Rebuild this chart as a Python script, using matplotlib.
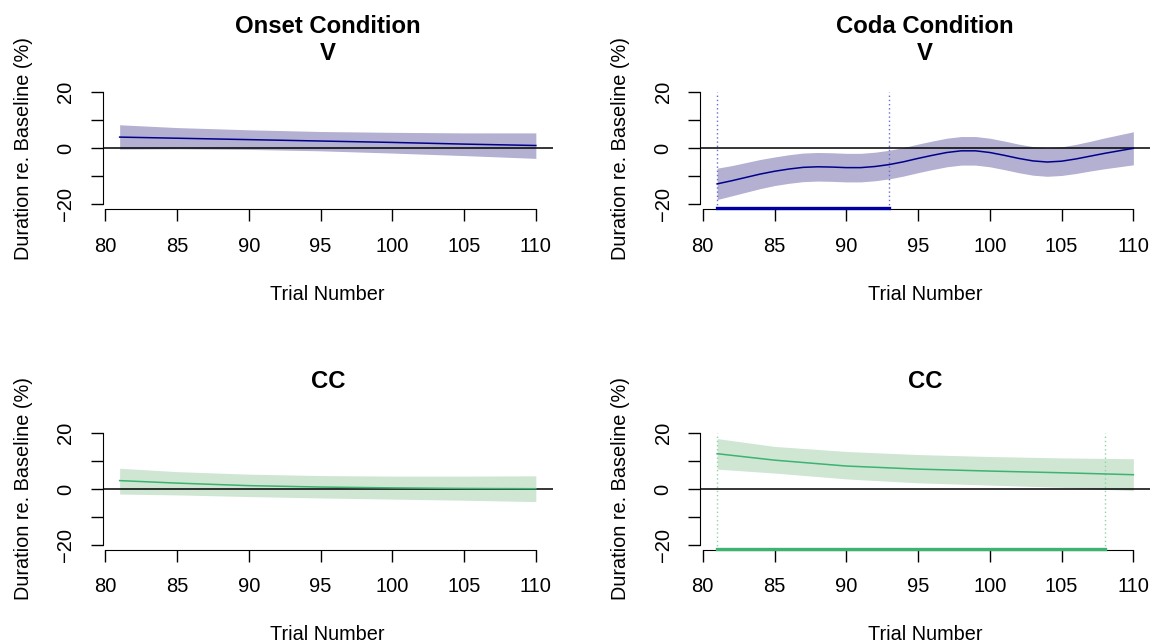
import matplotlib
matplotlib.use("Agg")
import matplotlib.pyplot as plt

plt.rcParams["font.family"] = ["Liberation Sans", "DejaVu Sans"]

trials = [81, 85, 90, 95, 100, 105, 110]
trials_full = list(range(81, 111))

# Onset condition, V
onset_v_fit = [4.0, 3.6, 3.1, 2.6, 2.1, 1.5, 1.0]
onset_v_hi = [8.4, 7.4, 6.6, 6.0, 5.7, 5.5, 5.5]
onset_v_lo = [-0.3, -0.2, -0.4, -0.9, -1.7, -2.6, -3.6]

# Onset condition, CC
onset_cc_fit = [3.0, 2.1, 1.2, 0.7, 0.4, 0.2, 0.1]
onset_cc_hi = [7.4, 6.2, 5.3, 4.8, 4.6, 4.6, 4.7]
onset_cc_lo = [-1.8, -2.1, -2.7, -3.2, -3.6, -4.0, -4.5]

# Coda condition, V (every trial)
coda_v_fit = [-12.7, -11.6, -10.4, -9.2, -8.2, -7.4, -6.8, -6.6, -6.7, -6.9,
              -6.9, -6.5, -5.8, -4.8, -3.6, -2.5, -1.5, -0.9, -0.9, -1.5,
              -2.5, -3.6, -4.5, -4.9, -4.6, -3.8, -2.8, -1.8, -0.9, 0.0]
coda_v_hw = [5.6, 5.4, 5.3, 5.2, 5.1, 5.1, 5.1, 5.1, 5.1, 5.1,
             5.1, 5.1, 5.1, 5.1, 5.1, 5.1, 5.1, 5.1, 5.1, 5.1,
             5.1, 5.1, 5.1, 5.1, 5.1, 5.2, 5.3, 5.5, 5.7, 5.9]

# Coda condition, CC
coda_cc_fit = [12.6, 10.3, 8.2, 7.1, 6.4, 5.8, 5.1]
coda_cc_hi = [18.0, 15.2, 13.4, 12.3, 11.6, 11.1, 10.8]
coda_cc_lo = [7.1, 5.7, 3.6, 2.2, 1.4, 0.6, -0.6]

# significant stretches (start, end)
coda_v_sig = (81, 93)
coda_cc_sig = (81, 108)

V_LINE, V_BAND, V_DOT = "#00008B", "#B3B0D1", "#6B6BD0"
CC_LINE, CC_BAND, CC_DOT = "#3CB371", "#CFE6D3", "#8FD3A8"

XLIM = (79.84, 111.16)
YLIM = (-21.6, 21.6)

fig = plt.figure(figsize=(11.5, 6.4), dpi=100)
W, H = 1150, 640


def make_axes(x0, y_top):
    return fig.add_axes([x0 / W, 1 - (y_top + 121) / H, 449.5 / W, 121 / H])


def style(ax):
    ax.set_xlim(*XLIM)
    ax.set_ylim(*YLIM)
    for s in ["top", "right"]:
        ax.spines[s].set_visible(False)
    ax.spines["left"].set_bounds(-20, 20)
    ax.spines["bottom"].set_bounds(80, 110)
    ax.set_xticks([80, 85, 90, 95, 100, 105, 110])
    ax.set_yticks([-20, -10, 0, 10, 20])
    ax.set_yticklabels(["\u221220", "", "0", "", "20"])
    ax.tick_params(direction="out", length=8.5, width=1, labelsize=14.5, pad=11.5)
    ax.tick_params(axis="y", labelrotation=90)
    for lbl in ax.get_yticklabels():
        lbl.set_va("center")
    ax.axhline(0, color="black", lw=1.1, zorder=3)
    ax.set_xlabel("Trial Number", fontsize=14.3, labelpad=21)
    ax.set_ylabel("Duration re. Baseline (%)", fontsize=14.3, labelpad=17)


def title(ax, lines, offsets):
    for txt, off in zip(lines, offsets):
        ax.annotate(txt, xy=(0.5, 1), xycoords="axes fraction",
                    xytext=(0, off), textcoords="offset points",
                    ha="center", va="center", fontsize=17.2, fontweight="bold")


# top left
ax = make_axes(103, 87.8)
ax.fill_between(trials, onset_v_lo, onset_v_hi, color=V_BAND, lw=0, zorder=1)
ax.plot(trials, onset_v_fit, color=V_LINE, lw=1.1, zorder=4)
style(ax)
title(ax, ["Onset Condition", "V"], [44, 24.5])

# top right
ax = make_axes(700.5, 87.8)
lo = [f - h for f, h in zip(coda_v_fit, coda_v_hw)]
hi = [f + h for f, h in zip(coda_v_fit, coda_v_hw)]
ax.fill_between(trials_full, lo, hi, color=V_BAND, lw=0, zorder=1)
ax.plot(trials_full, coda_v_fit, color=V_LINE, lw=1.1, zorder=4)
ax.vlines(coda_v_sig, YLIM[0], 20, colors=V_DOT, linestyles=(0, (1, 2)), lw=1.0, zorder=2)
ax.plot(coda_v_sig, [YLIM[0] + 0.2] * 2, color="#0000A0", lw=2.4, zorder=5, clip_on=False)
style(ax)
title(ax, ["Coda Condition", "V"], [44, 24.5])

# bottom left
ax = make_axes(103, 428.5)
ax.fill_between(trials, onset_cc_lo, onset_cc_hi, color=CC_BAND, lw=0, zorder=1)
ax.plot(trials, onset_cc_fit, color=CC_LINE, lw=1.1, zorder=4)
style(ax)
title(ax, ["CC"], [34])

# bottom right
ax = make_axes(700.5, 428.5)
ax.fill_between(trials, coda_cc_lo, coda_cc_hi, color=CC_BAND, lw=0, zorder=1)
ax.plot(trials, coda_cc_fit, color=CC_LINE, lw=1.1, zorder=4)
ax.vlines(coda_cc_sig, YLIM[0], 20, colors=CC_DOT, linestyles=(0, (1, 2)), lw=1.0, zorder=2)
ax.plot(coda_cc_sig, [YLIM[0] + 0.2] * 2, color=CC_LINE, lw=2.4, zorder=5, clip_on=False)
style(ax)
title(ax, ["CC"], [34])

fig.savefig("out.png", dpi=100)
